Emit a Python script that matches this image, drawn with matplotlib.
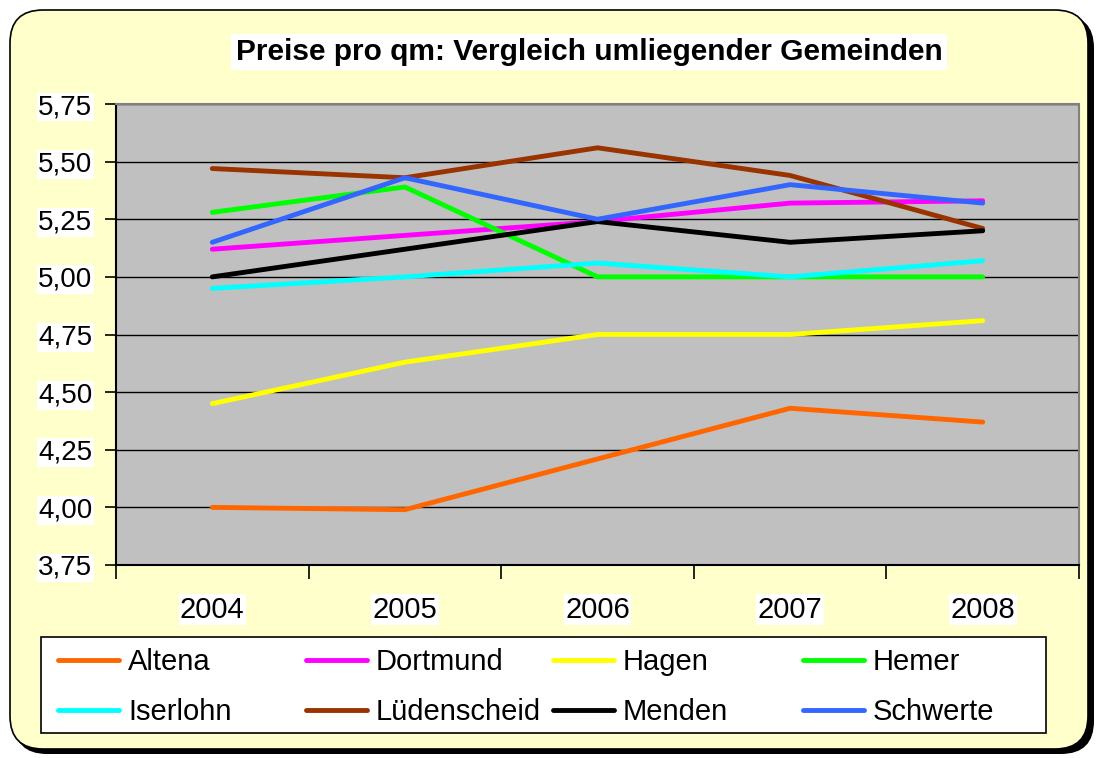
import matplotlib.pyplot as plt
import numpy as np
from matplotlib.patches import FancyBboxPatch, Rectangle
from matplotlib.ticker import FuncFormatter, MultipleLocator

plt.rcParams['font.family'] = ['Liberation Sans', 'DejaVu Sans']

#%% data
years = ['2004', '2005', '2006', '2007', '2008']
altena = [4.00, 3.99, 4.21, 4.43, 4.37]
dortmund = [5.12, 5.18, 5.24, 5.32, 5.33]
hagen = [4.45, 4.63, 4.75, 4.75, 4.81]
hemer = [5.28, 5.39, 5.00, 5.00, 5.00]
iserlohn = [4.95, 5.00, 5.06, 5.00, 5.07]
luedenscheid = [5.47, 5.43, 5.56, 5.44, 5.21]
menden = [5.00, 5.12, 5.24, 5.15, 5.20]
schwerte = [5.15, 5.43, 5.25, 5.40, 5.32]

names = ['Altena', 'Dortmund', 'Hagen', 'Hemer', 'Iserlohn', 'Lüdenscheid', 'Menden', 'Schwerte']
series = [altena, dortmund, hagen, hemer, iserlohn, luedenscheid, menden, schwerte]
colors = ['#FF6600', '#FF00FF', '#FFFF00', '#00FF00', '#00FFFF', '#993300', '#000000', '#3366FF']

W, H = 1101, 758
fig = plt.figure(figsize=(W / 100, H / 100), dpi=100)
fig.patch.set_facecolor('white')

def fx(px):
    return px / W

def fy(py):
    return 1 - py / H

#%% rounded frame with shadow
shadow = FancyBboxPatch((fx(14), fy(754)), fx(1080), 739 / H,
                        boxstyle='round,pad=0,rounding_size=0.03',
                        transform=fig.transFigure, facecolor='black', edgecolor='none',
                        mutation_aspect=W / H, zorder=-3)
frame = FancyBboxPatch((fx(10), fy(749)), fx(1078), 739 / H,
                       boxstyle='round,pad=0,rounding_size=0.03',
                       transform=fig.transFigure, facecolor='#FFFFCC', edgecolor='black',
                       linewidth=1.2, mutation_aspect=W / H, zorder=-2)
fig.patches.extend([shadow, frame])

#%% plot area
ax = fig.add_axes([fx(116), fy(565), fx(1079 - 116), (565 - 104) / H])
ax.set_facecolor('#C0C0C0')
x = np.arange(1, len(years) + 1)
lines = []
for vals, name, col in zip(series, names, colors):
    l, = ax.plot(x, vals, color=col, lw=3.5, label=name, solid_capstyle='round', zorder=3)
    lines.append(l)

ax.set_xlim(0.5, 5.5)
ax.set_ylim(3.75, 5.75)
ax.yaxis.set_major_locator(MultipleLocator(0.25))
ax.yaxis.set_major_formatter(FuncFormatter(lambda v, p: ('%.2f' % v).replace('.', ',')))
ax.grid(axis='y', color='black', lw=1, zorder=1)
ax.set_axisbelow(True)

ax.set_xticks(x)
ax.set_xticklabels(years)
ax.set_xticks(np.arange(0.5, 6.0, 1.0), minor=True)
ax.tick_params(axis='x', which='major', length=0, pad=22, labelsize=21)
ax.tick_params(axis='x', which='minor', length=10, width=1.2, direction='out')
ax.tick_params(axis='y', length=8, width=1.2, direction='out', pad=9, labelsize=20)

for s in ['left', 'bottom']:
    ax.spines[s].set_color('black')
    ax.spines[s].set_linewidth(1.5)
for s in ['top', 'right']:
    ax.spines[s].set_color('#808080')
    ax.spines[s].set_linewidth(1.5)

for lab in ax.get_xticklabels() + ax.get_yticklabels():
    lab.set_bbox(dict(facecolor='white', edgecolor='none', pad=1))

#%% title
fig.text(fx(589), fy(52), 'Preise pro qm: Vergleich umliegender Gemeinden',
         ha='center', va='center', fontsize=21.5, fontweight='bold',
         bbox=dict(facecolor='white', edgecolor='none', pad=3))

#%% legend: white box + one legend per column (row-wise order like Excel)
fig.patches.append(Rectangle((fx(41), fy(733)), fx(1046 - 41), (733 - 637) / H,
                             transform=fig.transFigure, facecolor='white',
                             edgecolor='black', linewidth=1.2, zorder=-1))
col_x = [58, 306, 553, 803]
for c, px in enumerate(col_x):
    idx = [c, c + 4]
    lg = fig.legend([lines[i] for i in idx], [names[i] for i in idx],
                    loc='upper left', bbox_to_anchor=(fx(px), fy(648)),
                    fontsize=21, frameon=False, handlelength=2.1,
                    handletextpad=0.3, borderpad=0, borderaxespad=0,
                    labelspacing=0.75)

fig.savefig('out.png', dpi=100)
